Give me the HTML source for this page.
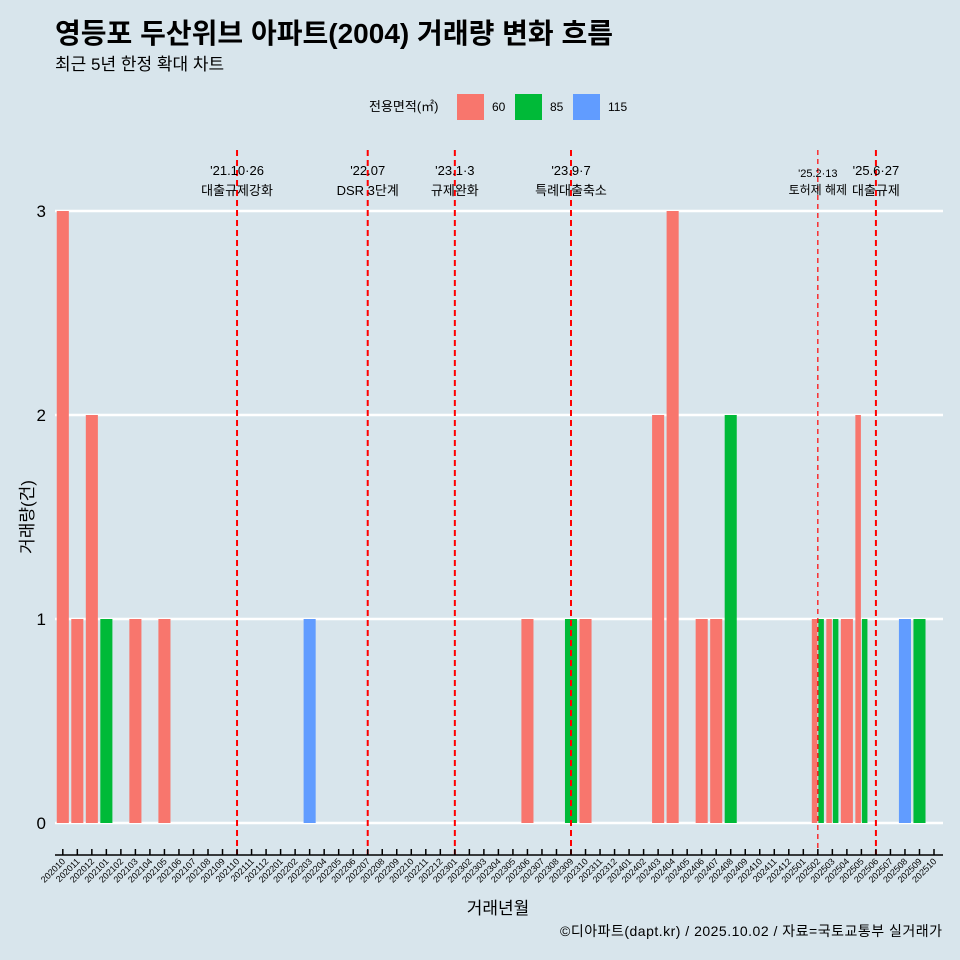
<!DOCTYPE html>
<html><head><meta charset="utf-8"><style>
html,body{margin:0;background:#d8e5ec;overflow:hidden;}
svg{display:block;}
svg text{font-family:"Liberation Sans","Noto Sans CJK KR",sans-serif;}
</style></head><body>
<svg id="c" width="960" height="960" xmlns="http://www.w3.org/2000/svg">
<rect width="960" height="960" fill="#d8e5ec"/>
<text x="55" y="43" font-size="28" font-weight="bold" fill="#000" textLength="558">영등포 두산위브 아파트(2004) 거래량 변화 흐름</text>
<text x="55" y="70" font-size="17" fill="#000">최근 5년 한정 확대 차트</text>
<g>
<text x="369" y="111" font-size="13">전용면적(㎡)</text>
<rect x="457" y="94" width="27" height="26" fill="#f8766d"/>
<text x="492" y="111" font-size="12">60</text>
<rect x="515" y="94" width="27" height="26" fill="#00ba38"/>
<text x="550" y="111" font-size="12">85</text>
<rect x="573" y="94" width="27" height="26" fill="#619cff"/>
<text x="608" y="111" font-size="12">115</text>
</g>
<g id="grid"></g><g id="bars"></g><g id="events"></g><g id="axes"></g>
<text x="498" y="914" font-size="17" text-anchor="middle">거래년월</text>
<text transform="translate(33,517) rotate(-90)" font-size="17" text-anchor="middle">거래량(건)</text>
<text x="942" y="936" font-size="14" text-anchor="end" textLength="382">©디아파트(dapt.kr) / 2025.10.02 / 자료=국토교통부 실거래가</text>
</svg>
<script>
const months=[];for(let y=2020;y<=2025;y++)for(let m=1;m<=12;m++){const k=y*100+m;if(k>=202010&&k<=202510)months.push(String(k));}
const yTicks=[0,1,2,3];
const series60=[["202010",3],["202011",1],["202012",2],["202103",1],["202105",1],["202306",1],["202310",1],["202403",2],["202404",3],["202406",1],["202407",1],["202502",1],["202503",1],["202504",1],["202505",2]];
const series85=[["202101",1],["202309",1],["202408",2],["202502",1],["202503",1],["202505",1],["202509",1]];
const series115=[["202203",1],["202508",1]];
const events=[["202110","'21.10·26","대출규제강화",false],["202207","'22.07","DSR 3단계",false],["202301","'23.1·3","규제완화",false],["202309","'23.9·7","특례대출축소",false],["202502","'25.2·13","토허제 해제",true],["202506","'25.6·27","대출규제",false]];
const NS="http://www.w3.org/2000/svg";
const x0=62.8,step=14.52,yBase=823,yUnit=204;
const xs=m=>x0+months.indexOf(m)*step;
const ys=v=>yBase-v*yUnit;
function mk(t,a,p){const e=document.createElementNS(NS,t);for(const k in a)e.setAttribute(k,a[k]);p.appendChild(e);return e;}
const G=document.getElementById('grid'),B=document.getElementById('bars'),E=document.getElementById('events'),A=document.getElementById('axes');
yTicks.forEach(v=>{const l=mk('line',{x1:55,x2:943,y1:ys(v),y2:ys(v),stroke:'#fff','stroke-width':2.5},G);


const t=mk('text',{x:46,y:ys(v)+6,'font-size':17,'text-anchor':'end'},A);t.textContent=v;

});
const all=[[series60,'#f8766d','60'],[series85,'#00ba38','85'],[series115,'#619cff','115']];
const counts={};all.forEach(s=>s[0].forEach(d=>{counts[d[0]]=(counts[d[0]]||[]).concat(s[2]);}));
const W=step*0.9;
all.forEach(([data,col,name])=>data.forEach(([m,v])=>{const grp=counts[m];const n=grp.length,i=grp.indexOf(name);
const w=W/n,x=xs(m)-W/2+i*w;
const r=mk('rect',{x:x+0.5,y:ys(v),width:w-1,height:v*yUnit,fill:col},B);

}));
events.forEach(([m,l1,l2,thin])=>{const x=xs(m);
const ln=mk('line',{x1:x,x2:x,y1:150,y2:855,stroke:'#ff0000','stroke-width':thin?1.2:2,'stroke-dasharray':thin?'5,4':'6,4'},E);


const fs=thin?11:13;
const t1=mk('text',{x:x,y:thin?177:175,'font-size':fs,'text-anchor':'middle'},E);t1.textContent=l1;


const t2=mk('text',{x:x,y:thin?194:195,'font-size':fs+(thin?1:0),'text-anchor':'middle'},E);t2.textContent=l2;

});
const ax=mk('line',{x1:55,x2:943,y1:855,y2:855,stroke:'#000','stroke-width':1.5},A);


months.forEach(m=>{const x=xs(m);mk('line',{x1:x,x2:x,y1:849,y2:855,stroke:'#000','stroke-width':1.5},A);
const t=mk('text',{x:x+3,y:862,'font-size':9,'text-anchor':'end',transform:`rotate(-45 ${x+3} 862)`},A);t.textContent=m;

});
</script>
</body></html>
